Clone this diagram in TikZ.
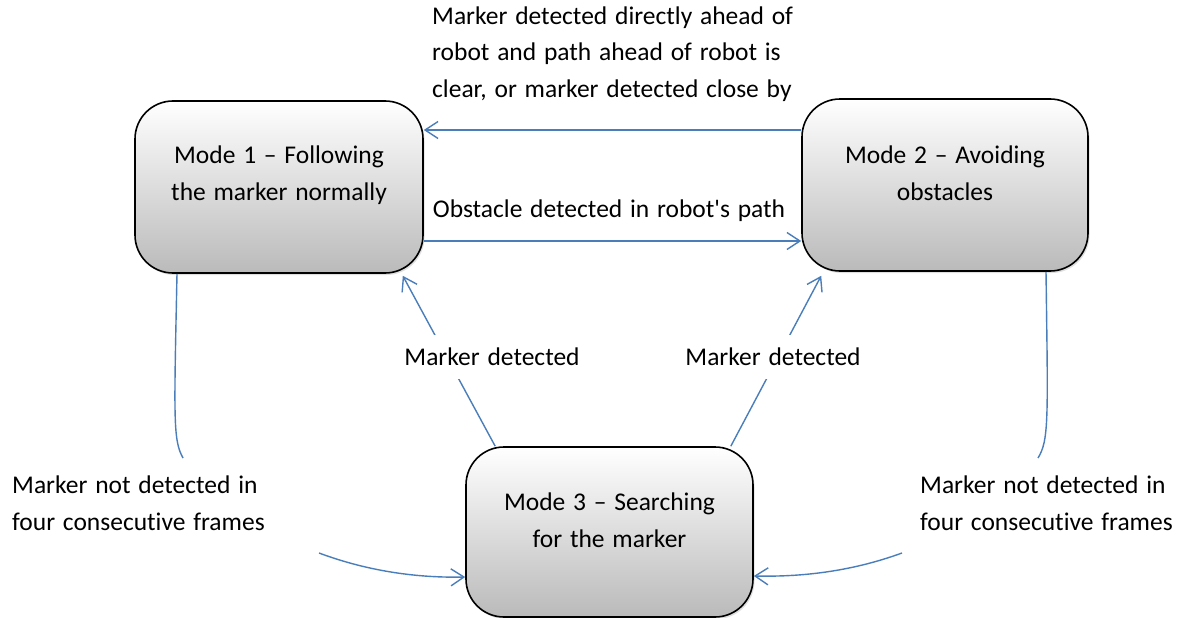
\documentclass[tikz,border=0pt]{standalone}
\usepackage{fontspec}
\setmainfont{Carlito}[Ligatures={NoCommon}, WordSpace=1.35]
\usetikzlibrary{arrows.meta,shadows,calc}
\definecolor{arrowblue}{HTML}{4A7EBB}
\tikzset{
  modebox/.style={draw=black, line width=1.6pt, rounded corners=38pt,
    top color=white, bottom color=black!27,
    drop shadow={opacity=0.25, shadow xshift=1.5pt, shadow yshift=-2pt}},
  boxtext/.style={align=center, inner sep=0pt, font=\fontsize{25.5}{36.5}\selectfont},
  lbl/.style={align=left, inner sep=0pt, font=\fontsize{25.5}{36.5}\selectfont},
  conn/.style={draw=arrowblue, line width=1.4pt},
  arr/.style={conn, -{Straight Barb[length=13pt,width=17pt]}},
}
\begin{document}
\begin{tikzpicture}[x=1pt,y=-1pt]
\useasboundingbox (0,0) rectangle (1183,618);
\fill[white] (0,0) rectangle (1183,618);

% boxes
\node[modebox, minimum width=288pt, minimum height=172pt] (m1) at (279,187) {};
\node[modebox, minimum width=286pt, minimum height=172pt] (m2) at (945,185) {};
\node[modebox, minimum width=287pt, minimum height=170pt] (m3) at (609.5,532) {};

\node[boxtext] (m1t) at (279,175) {Mode 1 – Following\\the marker normally};
\node[boxtext] (m2t) at (945,173) {Mode 2 – Avoiding\\obstacles};
\node[boxtext] (m3t) at (609.5,520) {Mode 3 – Searching\\for the marker};

% top connectors
\draw[arr] (m2.west |- 0,130) -- (m1.east |- 0,130);
\node[lbl, anchor=west] (ltop) at (432,54) {Marker detected directly ahead of\\robot and path ahead of robot is\\clear, or marker detected close by};

\draw[arr] (m1.east |- 0,241) -- (m2.west |- 0,241);
\node[lbl] (lobs) at (609,211) {Obstacle detected in robot\textquotesingle s path};

% marker detected connectors
\draw[arr] ([xshift=30pt]m3.north west) -- ($(m1.south east)+(-21,2)$);
\node[lbl, fill=white, inner ysep=13pt, inner xsep=0pt] (lmd1) at (492,357) {Marker detected};
\draw[arr] ([xshift=-23pt]m3.north east) -- ($(m2.south west)+(20,4)$);
\node[lbl, fill=white, inner ysep=13pt, inner xsep=0pt] (lmd2) at (773,357) {Marker detected};

% not detected connectors
\coordinate (c1) at (183,458);
\coordinate (c2) at (319,553);
\coordinate (c3) at (1038,458);
\coordinate (c4) at (902,553);
\draw[conn] (m1.south -| 177,0) .. controls (174,420) and (173,440) .. (c1);
\draw[arr] (c2) .. controls (370,572) and (420,578) .. (m3.west |- 0,577);
\draw[conn] (m2.south -| 1046,0) .. controls (1048,420) and (1049,440) .. (c3);
\draw[arr] (c4) .. controls (850,572) and (800,577) .. (m3.east |- 0,576);

\node[lbl, anchor=west] (lnd1) at (12,503) {Marker not detected in\\four consecutive frames};
\node[lbl, anchor=west] (lnd2) at (920,503) {Marker not detected in\\four consecutive frames};
\end{tikzpicture}
\end{document}
